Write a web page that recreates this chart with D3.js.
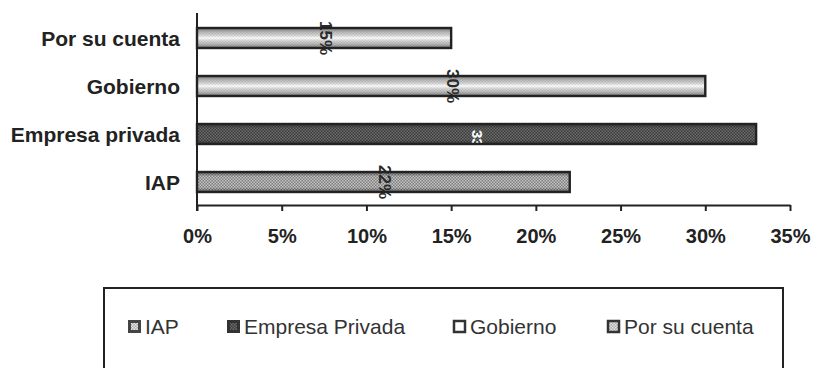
<!DOCTYPE html>
<html>
<head>
<meta charset="utf-8">
<script src="https://cdn.jsdelivr.net/npm/d3@7/dist/d3.min.js"></script>
<style>
  html, body { margin: 0; padding: 0; background: #fff; }
  svg { display: block; }
</style>
</head>
<body>
<svg id="chart" width="814" height="368"></svg>
<script>
// ---- data ----
const categories = ["Por su cuenta", "Gobierno", "Empresa privada", "IAP"];
const values = [15, 30, 33, 22];
const valueLabels = ["15%", "30%", "33%", "22%"];
const xTicks = [0, 5, 10, 15, 20, 25, 30, 35];
const xTickLabels = ["0%", "5%", "10%", "15%", "20%", "25%", "30%", "35%"];
const legendNames = ["IAP", "Empresa Privada", "Gobierno", "Por su cuenta"];

// style keys per category (not data)
const catStyle = { "Por su cuenta": "light", "Gobierno": "light", "Empresa privada": "dark", "IAP": "mid" };
const legendStyle = ["mid", "dark", "lightL", "lightP"];

const svg = d3.select("#chart");
const defs = svg.append("defs");

function dotPattern(id, bg, dot) {
  const p = defs.append("pattern").attr("id", id).attr("width", 3).attr("height", 3)
    .attr("patternUnits", "userSpaceOnUse");
  p.append("rect").attr("width", 3).attr("height", 3).attr("fill", bg);
  p.append("rect").attr("x", 0).attr("y", 0).attr("width", 1.5).attr("height", 1.5).attr("fill", dot);
  p.append("rect").attr("x", 1.5).attr("y", 1.5).attr("width", 1.5).attr("height", 1.5).attr("fill", dot);
}
dotPattern("pMid", "#7e7e7e", "#c4c4c4");
dotPattern("pDark", "#3a3a3a", "#6e6e6e");
dotPattern("pLight", "#a8a8a8", "#e8e8e8");

const grad = defs.append("linearGradient").attr("id", "gLight").attr("x1", 0).attr("y1", 0).attr("x2", 0).attr("y2", 1);
[[0, "#6a6a6a", 1], [0.25, "#b0b0b0", 0.5], [0.5, "#ffffff", 0.9], [0.75, "#b0b0b0", 0.5], [1, "#6a6a6a", 1]]
  .forEach(([o, c, op]) => grad.append("stop").attr("offset", o).attr("stop-color", c).attr("stop-opacity", op));

const gradMid = defs.append("linearGradient").attr("id", "gEdge").attr("x1", 0).attr("y1", 0).attr("x2", 0).attr("y2", 1);
[[0, "#222", 0.6], [0.22, "#222", 0], [0.78, "#222", 0], [1, "#222", 0.6]]
  .forEach(([o, c, op]) => gradMid.append("stop").attr("offset", o).attr("stop-color", c).attr("stop-opacity", op));

// ---- scales ----
const x = d3.scaleLinear().domain([0, 35]).range([197, 790]);
const y = d3.scaleBand().domain(categories).range([14, 206]).paddingInner(0.583).paddingOuter(0.2915);

const ink = "#222";
const font = "Liberation Sans, Arial, Helvetica, sans-serif";

// ---- bar fills ----
const fills = svg.append("g");
categories.forEach((c, i) => {
  const st = catStyle[c];
  const bx = x(0), bw = x(values[i]) - x(0), by = y(c), bh = y.bandwidth();
  if (st === "light") {
    fills.append("rect").attr("x", bx).attr("y", by).attr("width", bw).attr("height", bh).attr("fill", "url(#pLight)");
    fills.append("rect").attr("x", bx).attr("y", by).attr("width", bw).attr("height", bh).attr("fill", "url(#gLight)");
  } else {
    fills.append("rect").attr("x", bx).attr("y", by).attr("width", bw).attr("height", bh)
      .attr("fill", st === "dark" ? "url(#pDark)" : "url(#pMid)");
    fills.append("rect").attr("x", bx).attr("y", by).attr("width", bw).attr("height", bh).attr("fill", "url(#gEdge)");
  }
});

// ---- data labels (rotated) ----
const labels = svg.append("g");
categories.forEach((c, i) => {
  const dark = catStyle[c] === "dark";
  const cx = (x(0) + x(values[i])) / 2 - 5;
  const cy = y(c) + y.bandwidth() / 2 + (dark ? 11 : 0);
  labels.append("text")
    .attr("transform", `translate(${cx},${cy}) rotate(90)`)
    .attr("text-anchor", "middle").attr("dy", "-0.05em")
    .attr("font-family", font)
    .attr("font-weight", "bold").attr("font-size", dark ? 15 : 17)
    .attr("fill", dark ? "#fff" : "#2a2a2a")
    .text(valueLabels[i]);
});

// ---- bar outlines ----
const outlines = svg.append("g");
categories.forEach((c, i) => {
  outlines.append("rect").attr("x", x(0)).attr("y", y(c)).attr("width", x(values[i]) - x(0)).attr("height", y.bandwidth())
    .attr("fill", "none").attr("stroke", ink).attr("stroke-width", 2.4);
});

// ---- axes ----
const xAxis = d3.axisBottom(x).tickValues(xTicks).tickFormat((d, i) => xTickLabels[i]).tickSize(6).tickSizeOuter(0);
const gx = svg.append("g").attr("transform", "translate(0,205)").call(xAxis);
gx.select(".domain").attr("stroke", ink).attr("stroke-width", 2);
gx.selectAll(".tick line").attr("stroke", ink).attr("stroke-width", 2);
gx.selectAll(".tick text").attr("fill", ink).attr("font-family", font)
  .attr("font-weight", "bold").attr("font-size", 20).attr("dy", null).attr("y", 38);

const yAxis = d3.axisLeft(y).tickSize(0).tickPadding(17);
const gy = svg.append("g").attr("transform", "translate(197,0)").call(yAxis);
gy.select(".domain").remove();
gy.append("line").attr("x1", 0).attr("x2", 0).attr("y1", 13).attr("y2", 211).attr("stroke", ink).attr("stroke-width", 2);
gy.selectAll(".tick text").attr("fill", ink).attr("font-family", font)
  .attr("font-weight", "bold").attr("font-size", 21).attr("dy", "0.36em");

// ---- legend ----
svg.append("rect").attr("x", 104).attr("y", 288).attr("width", 679).attr("height", 100)
  .attr("fill", "none").attr("stroke", ink).attr("stroke-width", 2);

const legendX = [128, 227, 453, 607];
const lg = svg.append("g");
legendNames.forEach((n, i) => {
  const sx = legendX[i], sy = 320;
  const st = legendStyle[i];
  if (st === "mid" || st === "dark") {
    lg.append("rect").attr("x", sx).attr("y", sy).attr("width", 13).attr("height", 13)
      .attr("fill", st === "dark" ? "#333" : "#444");
    lg.append("rect").attr("x", sx + 3).attr("y", sy + 3).attr("width", 7).attr("height", 7)
      .attr("fill", st === "dark" ? "url(#pDark)" : "url(#pLight)");
  } else {
    lg.append("rect").attr("x", sx + 1).attr("y", sy + 1).attr("width", 11).attr("height", 11)
      .attr("fill", st === "lightL" ? "#fff" : "url(#pLight)").attr("stroke", "#333").attr("stroke-width", 2.5);
  }
  lg.append("text").attr("x", sx + 17).attr("y", sy + 13.5)
    .attr("font-family", font).attr("font-size", 21)
    .attr("fill", "#333").text(n);
});
</script>
</body>
</html>
